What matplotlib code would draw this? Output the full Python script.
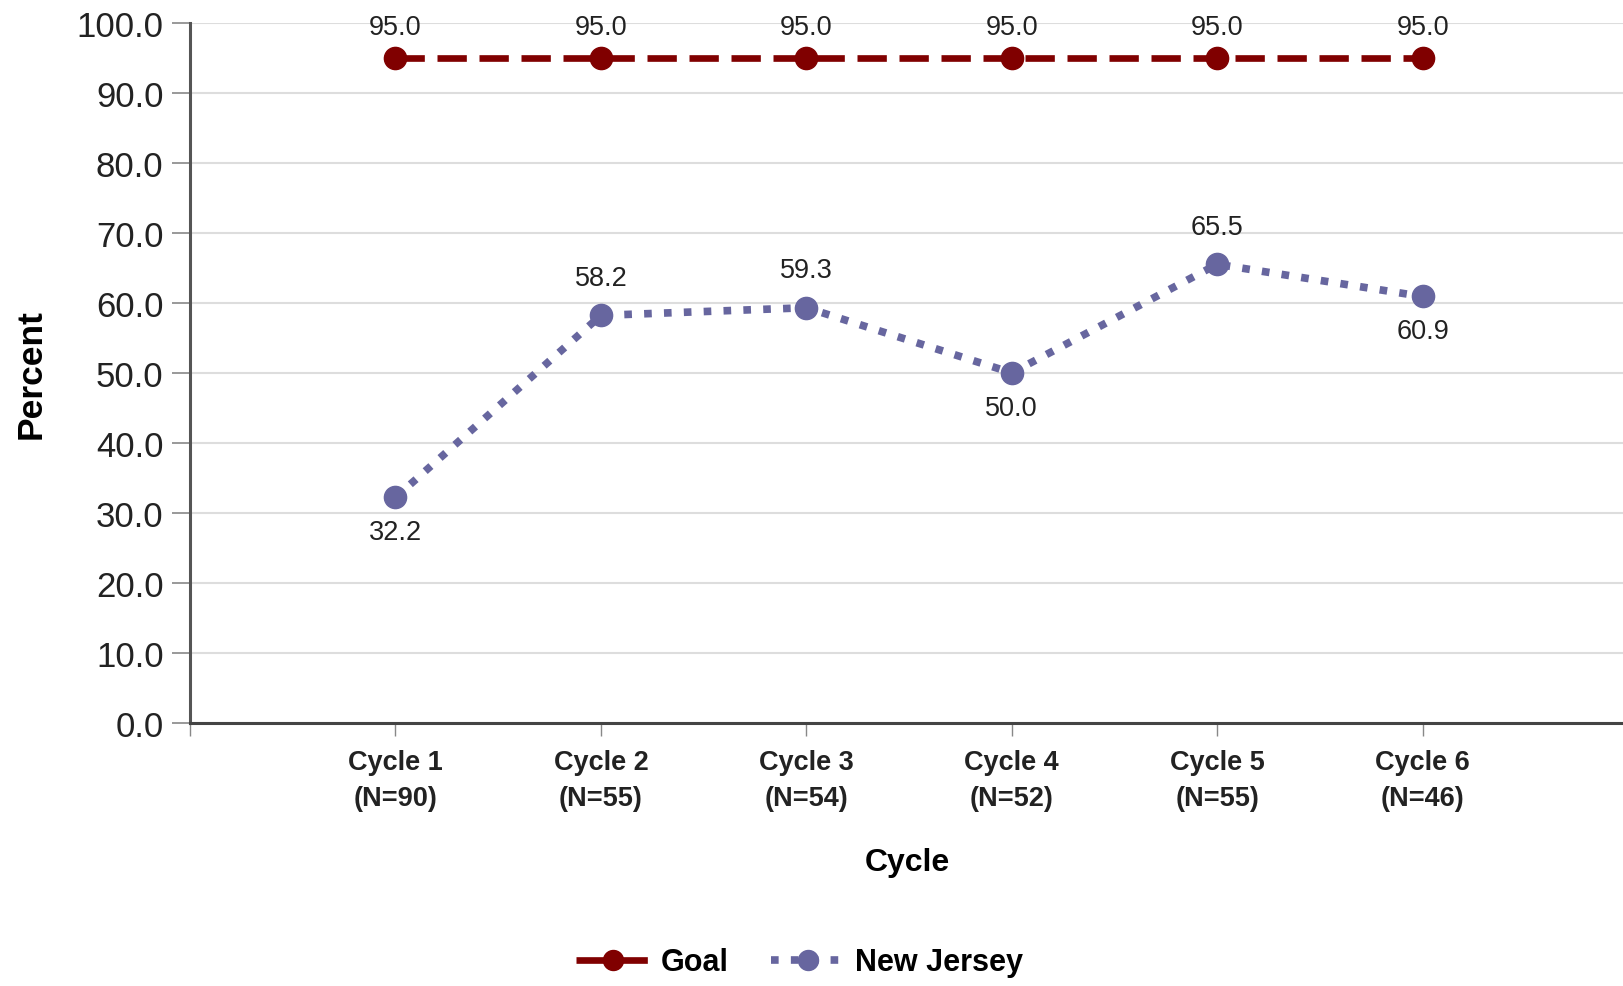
import matplotlib
matplotlib.use("Agg")
import matplotlib.pyplot as plt
from matplotlib import font_manager

# data
cycles = ["Cycle 1\n(N=90)", "Cycle 2\n(N=55)", "Cycle 3\n(N=54)",
          "Cycle 4\n(N=52)", "Cycle 5\n(N=55)", "Cycle 6\n(N=46)"]
goal = [95.0, 95.0, 95.0, 95.0, 95.0, 95.0]
new_jersey = [32.2, 58.2, 59.3, 50.0, 65.5, 60.9]
nj_label_pos = ["below", "above", "above", "below", "above", "below"]

GOAL_COLOR = "#800000"
NJ_COLOR = "#67669f"

names = {f.name for f in font_manager.fontManager.ttflist}
base = "Liberation Sans" if "Liberation Sans" in names else "DejaVu Sans"
narrow = "Liberation Sans Narrow" if "Liberation Sans Narrow" in names else base
plt.rcParams["font.family"] = [base, "DejaVu Sans"]

fig = plt.figure(figsize=(16.24, 9.87), dpi=100)
ax = fig.add_axes([0.117, 0.2665, 0.883, 0.7095])

x = list(range(len(cycles)))

ax.plot(x, goal, color=GOAL_COLOR, lw=4.8, dashes=(4.4, 1.9),
        marker="o", ms=16, label="Goal", zorder=3)
ax.plot(x, new_jersey, color=NJ_COLOR, lw=5.5, dashes=(1.0, 1.6),
        marker="o", ms=16, label="New Jersey", zorder=3)

for xi, v in zip(x, goal):
    ax.annotate(f"{v:.1f}", (xi, v), xytext=(0, 22), textcoords="offset points",
                ha="center", va="center", fontsize=19.5, color="#222222")
for xi, v, pos in zip(x, new_jersey, nj_label_pos):
    off = 27 if pos == "above" else -25
    ax.annotate(f"{v:.1f}", (xi, v), xytext=(0, off), textcoords="offset points",
                ha="center", va="center", fontsize=19.5, color="#222222")

ax.set_xlim(-1, 5.98)
ax.set_ylim(0, 100)
ax.set_yticks(range(0, 101, 10))
ax.set_yticklabels([f"{t:.1f}" for t in range(0, 101, 10)], fontsize=25, color="#222222")
ax.set_xticks(x)
ax.set_xticklabels(cycles, fontsize=19.5, fontfamily=narrow, fontweight="bold", color="#222222")
for lab in ax.get_xticklabels():
    lab.set_linespacing(1.5)
ax.set_xticks([-1], minor=True)

ax.grid(axis="y", color="#dddddd", lw=1.5, zorder=0)
ax.set_axisbelow(True)
for s in ["top", "right"]:
    ax.spines[s].set_visible(False)
ax.spines["left"].set_color("#555555")
ax.spines["left"].set_linewidth(2.2)
ax.spines["bottom"].set_color("#444444")
ax.spines["bottom"].set_linewidth(2.2)
ax.tick_params(axis="y", length=13, width=1.2, color="#888888", pad=6)
ax.tick_params(axis="x", which="both", length=9, width=1.0, color="#888888", pad=10)

ax.set_xlabel("Cycle", fontsize=23, fontweight="bold", labelpad=26)
ax.set_ylabel("Percent", fontsize=25.5, fontweight="bold", labelpad=21)

fig.legend(loc="center", bbox_to_anchor=(0.4925, 0.024), ncol=2, frameon=False,
           prop={"size": 22, "weight": "bold"}, handlelength=2.4, columnspacing=1.4,
           handletextpad=0.35, markerscale=0.9)

fig.savefig("out.png", dpi=100)
